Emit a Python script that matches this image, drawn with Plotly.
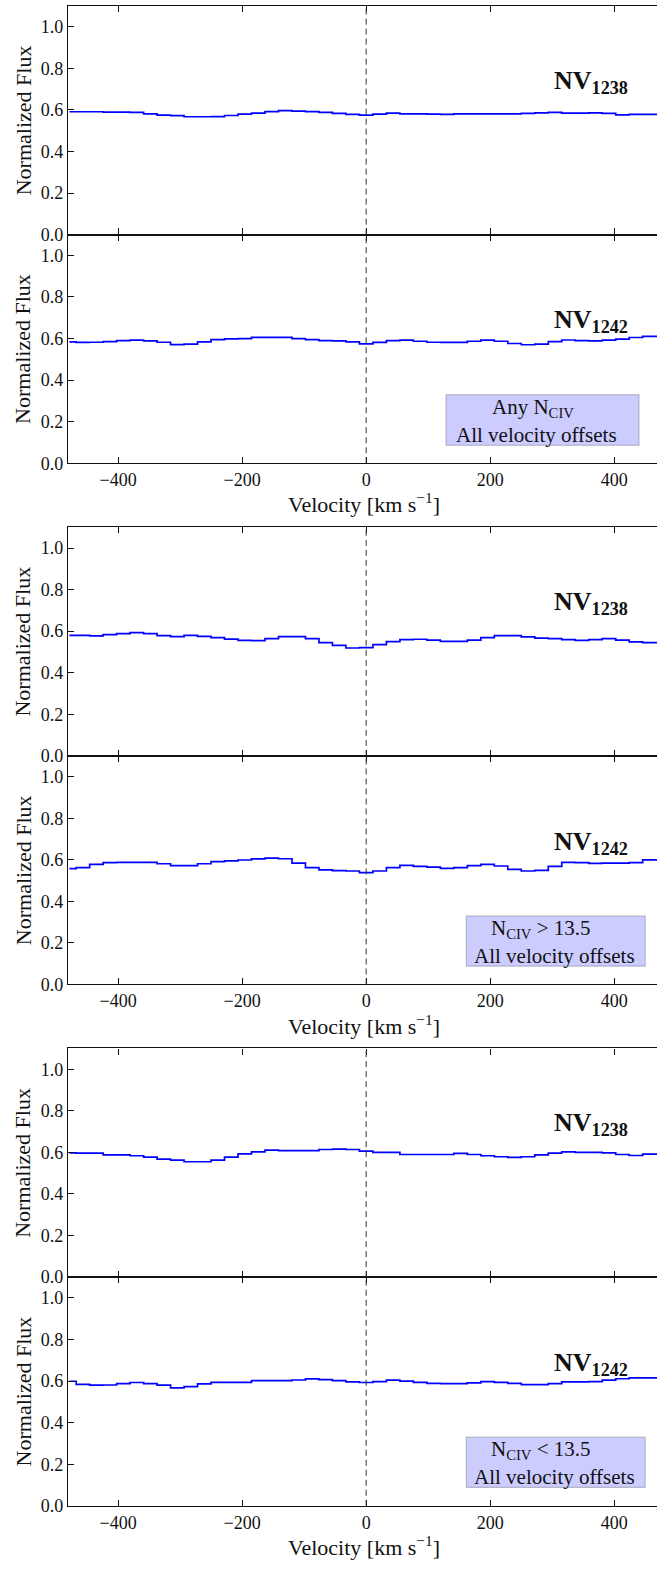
import plotly.graph_objects as go

# Velocity bin centres [km/s]
velocity = [-478.5, -456.8, -435.0, -413.3, -391.5, -369.8, -348.0, -326.3, -304.5,
            -282.8, -261.0, -239.3, -217.5, -195.8, -174.0, -152.3, -130.5, -108.8,
            -87.0, -65.3, -43.5, -21.8, 0.0, 21.8, 43.5, 65.3, 87.0, 108.8, 130.5,
            152.3, 174.0, 195.8, 217.5, 239.3, 261.0, 282.8, 304.5, 326.3, 348.0,
            369.8, 391.5, 413.3, 435.0, 456.8, 478.5]

# Stacked normalized flux, any N_CIV
nv1238_any = [0.591, 0.591, 0.591, 0.589, 0.589, 0.588, 0.581, 0.575, 0.572, 0.567,
              0.567, 0.568, 0.573, 0.580, 0.584, 0.592, 0.596, 0.594, 0.592, 0.588,
              0.583, 0.578, 0.575, 0.580, 0.584, 0.581, 0.581, 0.580, 0.578, 0.581,
              0.581, 0.581, 0.581, 0.581, 0.583, 0.586, 0.588, 0.584, 0.584, 0.586,
              0.583, 0.576, 0.578, 0.578, 0.578]
nv1242_any = [0.584, 0.581, 0.582, 0.585, 0.590, 0.592, 0.589, 0.582, 0.571, 0.573,
              0.584, 0.595, 0.598, 0.600, 0.606, 0.606, 0.606, 0.600, 0.595, 0.590,
              0.589, 0.584, 0.574, 0.581, 0.590, 0.592, 0.587, 0.582, 0.581, 0.581,
              0.587, 0.592, 0.587, 0.576, 0.570, 0.573, 0.585, 0.593, 0.590, 0.589,
              0.592, 0.597, 0.605, 0.610, 0.610]

# Stacked normalized flux, N_CIV > 13.5
nv1238_high = [0.580, 0.580, 0.577, 0.583, 0.588, 0.593, 0.588, 0.578, 0.574, 0.580,
               0.575, 0.569, 0.562, 0.556, 0.554, 0.564, 0.574, 0.574, 0.564, 0.545,
               0.532, 0.519, 0.521, 0.535, 0.550, 0.559, 0.561, 0.557, 0.551, 0.551,
               0.557, 0.569, 0.578, 0.578, 0.572, 0.566, 0.564, 0.559, 0.556, 0.559,
               0.564, 0.557, 0.548, 0.545, 0.545]
nv1242_high = [0.557, 0.562, 0.578, 0.586, 0.588, 0.588, 0.588, 0.581, 0.572, 0.572,
               0.581, 0.591, 0.595, 0.599, 0.604, 0.608, 0.605, 0.584, 0.562, 0.551,
               0.548, 0.546, 0.538, 0.546, 0.562, 0.573, 0.568, 0.565, 0.559, 0.562,
               0.572, 0.578, 0.570, 0.554, 0.546, 0.549, 0.568, 0.588, 0.586, 0.583,
               0.584, 0.584, 0.586, 0.600, 0.600]

# Stacked normalized flux, N_CIV < 13.5
nv1238_low = [0.598, 0.597, 0.597, 0.588, 0.588, 0.584, 0.577, 0.568, 0.563, 0.555,
              0.555, 0.563, 0.577, 0.593, 0.603, 0.611, 0.609, 0.609, 0.609, 0.614,
              0.616, 0.614, 0.606, 0.600, 0.600, 0.590, 0.590, 0.590, 0.590, 0.595,
              0.590, 0.584, 0.579, 0.576, 0.579, 0.588, 0.597, 0.603, 0.600, 0.600,
              0.598, 0.590, 0.585, 0.592, 0.592]
nv1242_low = [0.599, 0.584, 0.580, 0.581, 0.588, 0.593, 0.588, 0.580, 0.567, 0.573,
              0.586, 0.594, 0.594, 0.594, 0.602, 0.602, 0.602, 0.605, 0.610, 0.607,
              0.602, 0.596, 0.593, 0.597, 0.604, 0.600, 0.594, 0.589, 0.588, 0.588,
              0.591, 0.597, 0.594, 0.589, 0.583, 0.583, 0.588, 0.596, 0.596, 0.597,
              0.604, 0.611, 0.615, 0.615, 0.615]

line_labels = ["1238", "1242"]
sample_labels = ["Any N<sub>CIV</sub>", "N<sub>CIV</sub> &gt; 13.5", "N<sub>CIV</sub> &lt; 13.5"]
offset_label = "All velocity offsets"
x_ticks = [-400, -200, 0, 200, 400]
y_ticks = [0.0, 0.2, 0.4, 0.6, 0.8, 1.0]

W, H = 657, 1571
PANEL_H = 230.1
GROUP_PITCH = 524.6
TOP0 = 6.0
X_LEFT = 67.9
FONT = "Liberation Serif, 'Times New Roman', serif"
INK = "#111111"

fluxes = [nv1238_any, nv1242_any, nv1238_high, nv1242_high, nv1238_low, nv1242_low]

fig = go.Figure()
layout = dict(
    width=W, height=H,
    margin=dict(l=0, r=0, t=0, b=0),
    paper_bgcolor="white", plot_bgcolor="white",
    showlegend=False,
    font=dict(family=FONT, color=INK, size=18),
)
shapes, annotations = [], []


def panel_box(k):
    g, s = divmod(k, 2)
    top = TOP0 + g * GROUP_PITCH + s * PANEL_H
    return top, top + PANEL_H


for k, flux in enumerate(fluxes):
    n = k + 1
    suffix = "" if n == 1 else str(n)
    xa, ya = "x" + suffix, "y" + suffix
    top, bot = panel_box(k)
    is_lower = (k % 2 == 1)

    fig.add_trace(go.Scatter(
        x=velocity, y=flux, xaxis=xa, yaxis=ya, mode="lines",
        line=dict(shape="hvh", color="#0000ff", width=1.7),
        hoverinfo="skip", showlegend=False))

    layout["xaxis" + suffix] = dict(
        domain=[X_LEFT / W, 1.0], anchor=ya, range=[-481, 469],
        tickmode="array", tickvals=x_ticks, showticklabels=is_lower,
        ticks="inside", ticklen=6, tickwidth=1, tickcolor=INK,
        showline=True, linecolor=INK, linewidth=1.3, mirror="ticks",
        showgrid=False, zeroline=False,
        tickfont=dict(family=FONT, size=18, color=INK))
    layout["yaxis" + suffix] = dict(
        domain=[1 - bot / H, 1 - top / H], anchor=xa, range=[0, 1.1],
        tickmode="array", tickvals=y_ticks, tickformat=".1f",
        ticks="inside", ticklen=6, tickwidth=1, tickcolor=INK,
        showline=True, linecolor=INK, linewidth=1.3, mirror=False,
        showgrid=False, zeroline=False,
        tickfont=dict(family=FONT, size=18, color=INK))

    # rest-frame velocity marker
    shapes.append(dict(type="line", xref=xa, yref=ya + " domain", x0=0, x1=0, y0=0, y1=1,
                       line=dict(color="#333333", width=1, dash="6px,4px")))

    # transition label
    annotations.append(dict(
        xref=xa, yref=ya, x=300, y=0.735 if not is_lower else 0.683,
        xanchor="left", yanchor="middle", showarrow=False,
        text="<b>NV</b><sub><b>" + line_labels[k % 2] + "</b></sub>",
        font=dict(family=FONT, size=26, color=INK)))

    # y-axis title
    annotations.append(dict(
        xref="paper", yref="paper", x=23 / W, y=1 - (top + bot) / 2 / H,
        xanchor="center", yanchor="middle", textangle=-90, showarrow=False,
        text="Normalized Flux", font=dict(family=FONT, size=22, color=INK)))

    if is_lower:
        g = k // 2
        # x-axis title
        annotations.append(dict(
            xref=xa, yref="paper", x=-3, y=1 - (bot + 40.5) / H,
            xanchor="center", yanchor="middle", showarrow=False,
            text="Velocity [km s<sup>−1</sup>]",
            font=dict(family=FONT, size=22, color=INK)))
        # sample description box
        if g == 0:
            bx0, bx1, by0, by1 = 128.7, 440.0, 0.086, 0.330
            t1x, t2x = 199.7, 141.0
        else:
            bx0, bx1, by0, by1 = 161.5, 450.0, 0.088, 0.330
            t1x, t2x = 198.5, 170.8
        shapes.append(dict(type="rect", xref=xa, yref=ya, x0=bx0, x1=bx1, y0=by0, y1=by1,
                           fillcolor="rgb(204,204,255)",
                           line=dict(color="rgba(0,0,0,0.2)", width=1.2), layer="above"))
        annotations.append(dict(
            xref=xa, yref=ya, x=t1x, y=0.268, xanchor="left", yanchor="middle",
            showarrow=False, text=sample_labels[g],
            font=dict(family=FONT, size=21, color=INK)))
        annotations.append(dict(
            xref=xa, yref=ya, x=t2x, y=0.138, xanchor="left", yanchor="middle",
            showarrow=False, text=offset_label,
            font=dict(family=FONT, size=21, color=INK)))

layout["shapes"] = shapes
layout["annotations"] = annotations
fig.update_layout(**layout)
fig.write_html("out.html", config={"displayModeBar": False})
